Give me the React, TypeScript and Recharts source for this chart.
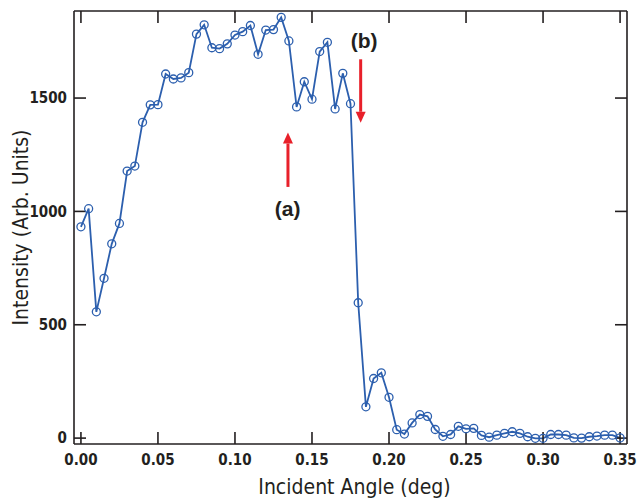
import React from "react";
import {
  LineChart, Line, XAxis, YAxis, ReferenceLine, ReferenceDot,
} from "recharts";

// incident angle (deg)
const ANGLES = [
  0.000, 0.005, 0.010, 0.015, 0.020, 0.025, 0.030, 0.035, 0.040, 0.045,
  0.050, 0.055, 0.060, 0.065, 0.070, 0.075, 0.080, 0.085, 0.090, 0.095,
  0.100, 0.105, 0.110, 0.115, 0.120, 0.125, 0.130, 0.135, 0.140, 0.145,
  0.150, 0.155, 0.160, 0.165, 0.170, 0.175, 0.180, 0.185, 0.190, 0.195,
  0.200, 0.205, 0.210, 0.215, 0.220, 0.225, 0.230, 0.235, 0.240, 0.245,
  0.250, 0.255, 0.260, 0.265, 0.270, 0.275, 0.280, 0.285, 0.290, 0.295,
  0.300, 0.305, 0.310, 0.315, 0.320, 0.325, 0.330, 0.335, 0.340, 0.345,
  0.350,
];

// intensity (arb. units)
const INTENSITY = [
  932, 1012, 557, 705, 857, 947, 1178, 1200, 1393, 1470,
  1471, 1606, 1584, 1589, 1612, 1782, 1823, 1722, 1718, 1739,
  1778, 1793, 1820, 1693, 1800, 1802, 1856, 1752, 1461, 1572,
  1495, 1705, 1746, 1452, 1609, 1475, 597, 138, 263, 288,
  180, 37, 18, 67, 104, 96, 38, 8, 16, 52,
  41, 43, 12, 4, 13, 21, 28, 21, 6, -1,
  -1, 16, 16, 13, 1, 0, 6, 9, 13, 13,
  1,
];

const X_TICKS = [0, 0.05, 0.1, 0.15, 0.2, 0.25, 0.3, 0.35];
const Y_TICKS = [0, 500, 1000, 1500];

// annotation arrows: [tail, head]
const ARROW_A = [{ x: 0.1344, y: 1108 }, { x: 0.1344, y: 1348 }];
const ARROW_B = [{ x: 0.1816, y: 1671 }, { x: 0.1816, y: 1391 }];
const LABELS = [
  { text: "(a)", x: 0.1342, y: 1011 },
  { text: "(b)", x: 0.1838, y: 1756 },
];

const data = ANGLES.map((a, i) => ({ angle: a, value: INTENSITY[i] }));

const AXIS = "#231f20";
const BLUE = "#2c5fae";
const RED = "#e8202a";
const FONT = "'Liberation Sans Narrow', 'DejaVu Sans Condensed', 'Liberation Sans', sans-serif";

const X_DOMAIN = [-0.0045, 0.3545];
const Y_DOMAIN = [-26, 1884];

const Arrow = (props: any) => {
  const { x1, y1, x2, y2 } = props;
  const dir = y2 < y1 ? -1 : 1;
  const headLen = 11;
  const baseY = y2 - dir * headLen;
  return (
    <g>
      <line x1={x1} y1={y1} x2={x2} y2={baseY} stroke={RED} strokeWidth={3} />
      <polygon points={`${x2 - 5},${baseY} ${x2 + 5},${baseY} ${x2},${y2}`} fill={RED} />
    </g>
  );
};

const Tag = (text: string) => (props: any) => (
  <text x={props.cx} y={props.cy} textAnchor="middle" dominantBaseline="central"
    fontFamily="'Liberation Sans', Arial, sans-serif" fontWeight="bold" fontSize={21} fill={AXIS}>
    {text}
  </text>
);

export default function App() {
  const tickStyle = { fill: AXIS, fontSize: 15, fontFamily: FONT, fontWeight: "bold" as const };
  return (
    <div style={{ position: "absolute", left: 0, top: 0, background: "#fff" }}>
      <LineChart width={642} height={500} data={data}
        margin={{ top: 10, right: 14, bottom: 0, left: 0 }}>
        <XAxis xAxisId="x" dataKey="angle" type="number" domain={X_DOMAIN} ticks={X_TICKS}
          allowDataOverflow height={56} tickSize={-12} tickMargin={22}
          stroke={AXIS} strokeWidth={1.6} tick={tickStyle}
          tickFormatter={(v: number) => v.toFixed(2)}
          label={{
            content: ({ viewBox }: any) => (
              <text x={viewBox.x + viewBox.width / 2 + 4} y={viewBox.y + 43} textAnchor="middle"
                dominantBaseline="central" fontFamily={FONT} fontSize={21} fill={AXIS}>
                Incident Angle (deg)
              </text>
            ),
          }} />
        <XAxis xAxisId="top" orientation="top" dataKey="angle" type="number" domain={X_DOMAIN}
          ticks={X_TICKS} allowDataOverflow height={1} tickSize={-12}
          stroke={AXIS} strokeWidth={1.6} tickFormatter={() => ""} />
        <YAxis yAxisId="y" type="number" domain={Y_DOMAIN} ticks={Y_TICKS} allowDataOverflow
          width={74} tickSize={-12} tickMargin={19} stroke={AXIS} strokeWidth={1.6} tick={tickStyle}
          label={{
            content: ({ viewBox }: any) => {
              const cx = 21;
              const cy = viewBox.y + viewBox.height / 2;
              return (
                <text x={cx} y={cy} textAnchor="middle" dominantBaseline="central"
                  transform={`rotate(-90 ${cx} ${cy})`} fontFamily={FONT} fontSize={21} fill={AXIS}>
                  Intensity (Arb. Units)
                </text>
              );
            },
          }} />
        <YAxis yAxisId="right" orientation="right" type="number" domain={Y_DOMAIN} ticks={Y_TICKS}
          allowDataOverflow width={1} tickSize={-12} stroke={AXIS} strokeWidth={1.6}
          tickFormatter={() => ""} />
        <Line xAxisId="x" yAxisId="y" type="linear" dataKey="value" stroke={BLUE} strokeWidth={1.8}
          dot={{ r: 4, stroke: BLUE, strokeWidth: 1.3, fill: "none" }} activeDot={false}
          isAnimationActive={false} />
        <ReferenceLine xAxisId="x" yAxisId="y" segment={ARROW_A} shape={Arrow} ifOverflow="visible" />
        <ReferenceLine xAxisId="x" yAxisId="y" segment={ARROW_B} shape={Arrow} ifOverflow="visible" />
        {LABELS.map((l) => (
          <ReferenceDot key={l.text} xAxisId="x" yAxisId="y" x={l.x} y={l.y} r={0}
            shape={Tag(l.text)} ifOverflow="visible" />
        ))}
      </LineChart>
    </div>
  );
}
